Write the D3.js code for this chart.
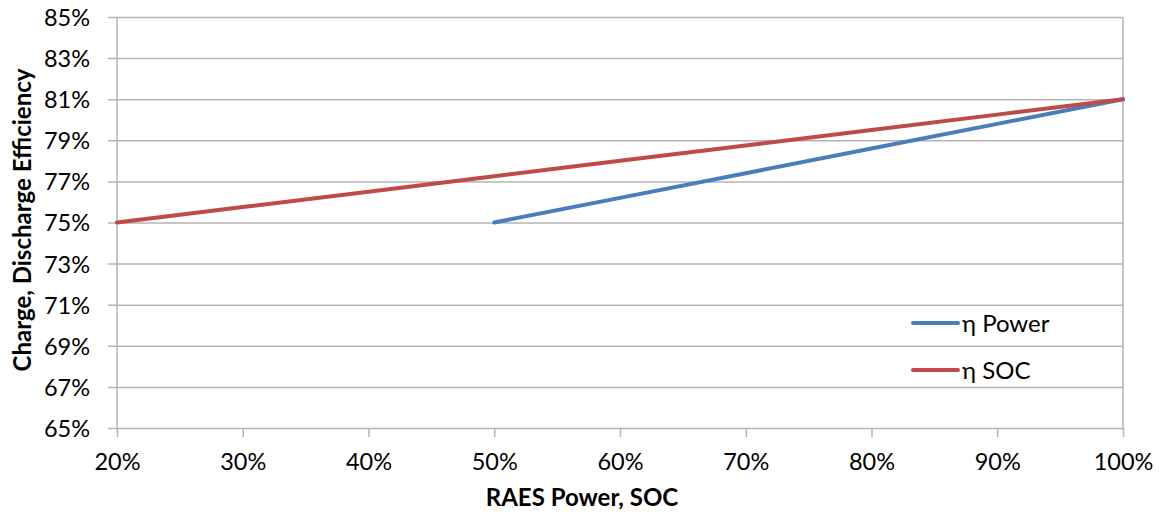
<!DOCTYPE html>
<html>
<head>
<meta charset="utf-8">
<script src="https://cdn.jsdelivr.net/npm/d3@7"></script>
<style>
  html, body { margin: 0; padding: 0; background: #fff; }
  svg text { font-family: Lato, "Open Sans", "Liberation Sans", sans-serif; fill: #000; }
</style>
</head>
<body>
<svg id="chart" width="1168" height="514"></svg>
<script>
// Efficiency vs. RAES power / state of charge
const powerX = [0.5, 0.6, 0.7, 0.8, 0.9, 1.0];
const powerEff = [0.75, 0.762, 0.774, 0.786, 0.798, 0.81];
const socX = [0.2, 0.3, 0.4, 0.5, 0.6, 0.7, 0.8, 0.9, 1.0];
const socEff = [0.75, 0.7575, 0.765, 0.7725, 0.78, 0.7875, 0.795, 0.8025, 0.81];
const seriesNames = ["η Power", "η SOC"];
const seriesColors = ["#4A7EBB", "#BE4B48"];
const xTicks = [0.2, 0.3, 0.4, 0.5, 0.6, 0.7, 0.8, 0.9, 1.0];
const yTicks = [0.65, 0.67, 0.69, 0.71, 0.73, 0.75, 0.77, 0.79, 0.81, 0.83, 0.85];
const xTitle = "RAES Power, SOC";
const yTitle = "Charge, Discharge Efficiency";

(function draw() {
  const svg = d3.select("#chart");
  const pLeft = 117, pRight = 1123, pTop = 17, pBottom = 428;
  const fs = 23.5;

  const x = d3.scaleLinear().domain([0.2, 1.0]).range([pLeft, pRight]);
  const y = d3.scaleLinear().domain([0.65, 0.85]).range([pBottom, pTop]);
  const pct = d3.format(".0%");
  const gridColor = "#B3B3B3";

  // horizontal gridlines with left tick stubs
  const yAxis = d3.axisLeft(y).tickValues(yTicks).tickFormat(pct)
    .tickSize(-(pRight - pLeft)).tickPadding(27);
  const gy = svg.append("g").attr("transform", `translate(${pLeft},0)`).call(yAxis);
  gy.select(".domain").remove();
  gy.selectAll(".tick line").attr("stroke", gridColor).attr("stroke-width", 1.5)
    .attr("x1", -9).attr("x2", pRight - pLeft);
  gy.selectAll(".tick text").attr("font-size", fs).attr("dy", "0.36em");

  // x axis ticks and labels
  const xAxis = d3.axisBottom(x).tickValues(xTicks).tickFormat(pct)
    .tickSize(9).tickPadding(16);
  const gx = svg.append("g").attr("transform", `translate(0,${pBottom})`).call(xAxis);
  gx.select(".domain").remove();
  gx.selectAll(".tick line").attr("stroke", gridColor).attr("stroke-width", 1.5);
  gx.selectAll(".tick text").attr("font-size", fs);

  // vertical borders of the plot area
  svg.append("line").attr("x1", pLeft).attr("x2", pLeft).attr("y1", pTop).attr("y2", pBottom)
    .attr("stroke", gridColor).attr("stroke-width", 1.5);
  svg.append("line").attr("x1", pRight).attr("x2", pRight).attr("y1", pTop).attr("y2", pBottom)
    .attr("stroke", gridColor).attr("stroke-width", 1.5);

  // series lines
  const line = d3.line().x(d => x(d[0])).y(d => y(d[1]));
  const series = [
    d3.zip(powerX, powerEff),
    d3.zip(socX, socEff)
  ];
  series.forEach((pts, i) => {
    svg.append("path").datum(pts).attr("d", line)
      .attr("fill", "none").attr("stroke", seriesColors[i])
      .attr("stroke-width", 4).attr("stroke-linecap", "round");
  });

  // legend
  const legend = svg.append("g");
  seriesNames.forEach((name, i) => {
    const ly = 323 + i * 47;
    legend.append("line").attr("x1", 913).attr("x2", 958).attr("y1", ly).attr("y2", ly)
      .attr("stroke", seriesColors[i]).attr("stroke-width", 4).attr("stroke-linecap", "round");
    legend.append("text").attr("x", 962).attr("y", ly).attr("dy", "0.36em")
      .attr("font-size", 24).text(name);
  });

  // axis titles
  svg.append("text").attr("x", 582).attr("y", 497).attr("dy", "0.36em")
    .attr("text-anchor", "middle").attr("font-size", 24).attr("font-weight", "bold").text(xTitle);
  svg.append("text").attr("transform", `translate(22,220) rotate(-90)`)
    .attr("dy", "0.36em").attr("text-anchor", "middle")
    .attr("font-size", 24).attr("font-weight", "bold").text(yTitle);
})();
</script>
</body>
</html>
